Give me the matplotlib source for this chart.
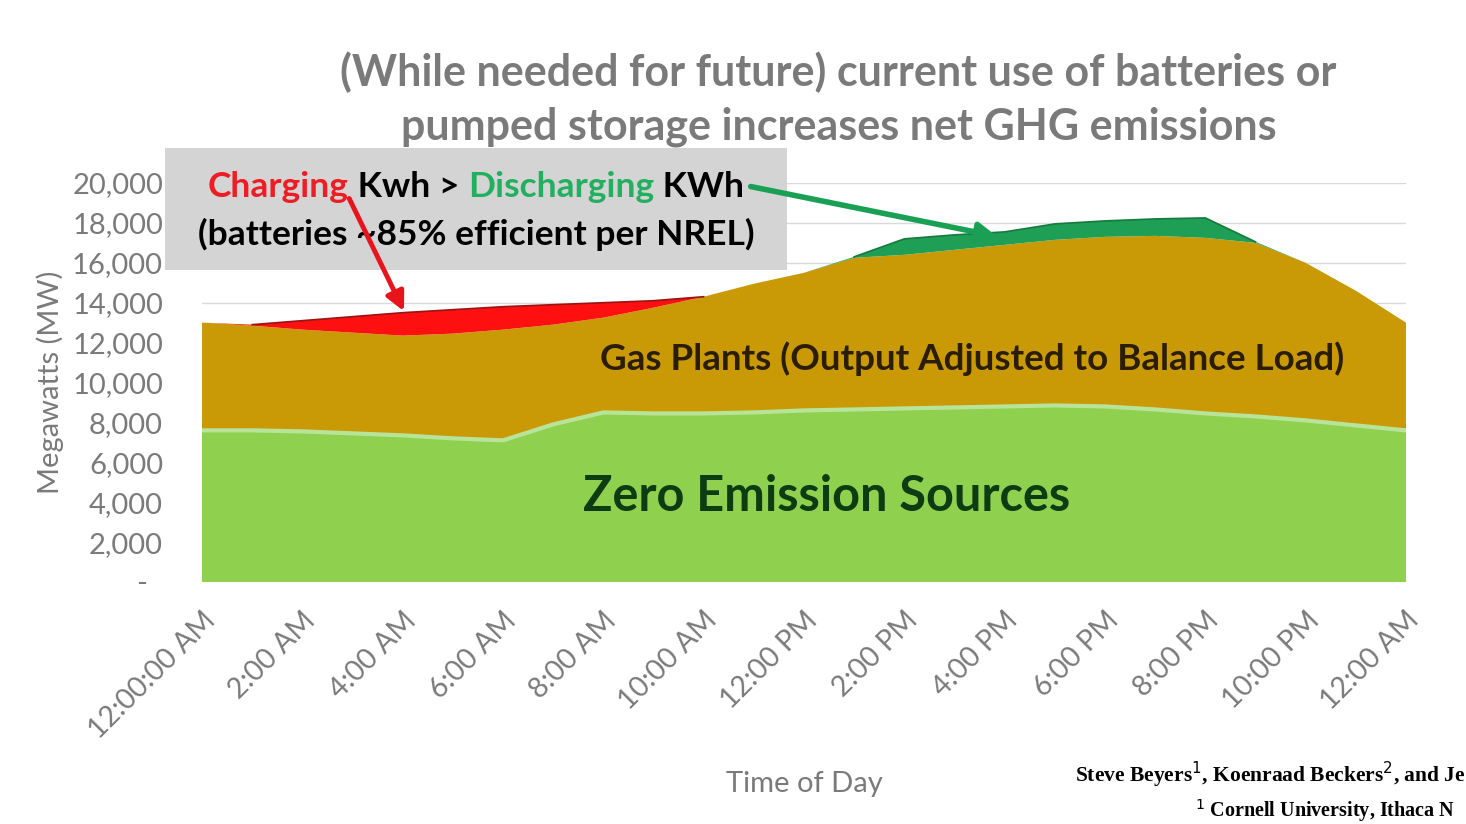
import numpy as np
import matplotlib
matplotlib.use("Agg")
import matplotlib.pyplot as plt

# hourly values (MW), hour 0 .. 24
hours = np.arange(25)
zero_emission = [7600, 7600, 7550, 7450, 7350, 7200, 7100, 7900, 8500, 8450, 8450, 8500, 8600,
                 8650, 8700, 8750, 8800, 8850, 8800, 8650, 8450, 8300, 8100, 7850, 7600]
gas_plants = [5400, 5250, 5100, 5050, 5000, 5250, 5550, 5000, 4750, 5300, 5850, 6450, 6900,
              7600, 7700, 7900, 8100, 8300, 8500, 8700, 8800, 8700, 7900, 6750, 5400]
charging = [0, 50, 450, 800, 1150, 1200, 1150, 1000, 750, 350, 0, 0, 0,
            0, 0, 0, 0, 0, 0, 0, 0, 0, 0, 0, 0]
discharging = [0, 0, 0, 0, 0, 0, 0, 0, 0, 0, 0, 0, 0,
               50, 800, 750, 650, 800, 800, 850, 1000, 50, 0, 0, 0]

tick_hours = list(range(0, 25, 2))
tick_labels = ["12:00:00 AM", "2:00 AM", "4:00 AM", "6:00 AM", "8:00 AM", "10:00 AM",
               "12:00 PM", "2:00 PM", "4:00 PM", "6:00 PM", "8:00 PM", "10:00 PM", "12:00 AM"]
y_ticks = list(range(0, 20001, 2000))

plt.rcParams['font.family'] = ['Lato', 'DejaVu Sans']
GRAY = '#7a7a7a'

fig = plt.figure(figsize=(14.66, 8.24), dpi=100)
ax = fig.add_axes([202/1466, 1-582/824, 1204/1466, 399/824])
FT = fig.transFigure

ax.stackplot(hours, zero_emission, gas_plants, charging, discharging,
             colors=['#90d04f', '#c99a06', '#ff1010', '#1f9e55'], linewidth=0)
# lighter edge along the top of the green layer
ax.plot(hours, zero_emission, color='#b8e49a', lw=3)
top_gas = np.array(zero_emission) + np.array(gas_plants)
ax.plot(hours[1:11], (top_gas + np.array(charging))[1:11], color='#9a1414', lw=1.2)
ax.plot(hours[13:22], (top_gas + np.array(discharging))[13:22], color='#157a3e', lw=1.2)

ax.set_xlim(0, 24)
ax.set_ylim(0, 20000)
ax.set_yticks(y_ticks)
ax.set_yticklabels(['-  '] + [f"{v:,}" for v in y_ticks[1:]])
ax.set_xticks(tick_hours)
ax.set_xticklabels(tick_labels, rotation=45, ha='right', rotation_mode='anchor')
ax.tick_params(axis='both', length=0, colors=GRAY)
ax.tick_params(axis='y', pad=28, labelsize=21)
ax.tick_params(axis='x', pad=18, labelsize=20.5)
ax.grid(axis='y', color='#d9d9d9', lw=1)
ax.set_axisbelow(True)
for s in ax.spines.values():
    s.set_visible(False)

ax.set_ylabel('Megawatts (MW)', color=GRAY, fontsize=21, labelpad=6)
ax.set_xlabel('Time of Day', color=GRAY, fontsize=21, labelpad=20)

fig.text(0.572, 1-72/824, '(While needed for future) current use of batteries or',
         ha='center', va='center', fontsize=31, fontweight='bold', color=GRAY)
fig.text(0.572, 1-127/824, 'pumped storage increases net GHG emissions',
         ha='center', va='center', fontsize=31, fontweight='bold', color=GRAY)

ax.text(15.35, 11200, 'Gas Plants (Output Adjusted to Balance Load)', ha='center', va='center',
        fontsize=26.5, fontweight='bold', color='#2b1d00')
ax.text(12.45, 4300, 'Zero Emission Sources', ha='center', va='center',
        fontsize=35, fontweight='bold', color='#0d3b12')

# annotation box, drawn inside the axes so the arrows can sit on top of it
box = plt.Rectangle((165/1466, 1-270/824), 622/1466, 122/824, transform=FT,
                    facecolor='#d4d4d4', edgecolor='none', zorder=5, clip_on=False)
ax.add_patch(box)

fig.canvas.draw()
r = fig.canvas.get_renderer()
pieces = [("Charging", '#ee1c24'), (" Kwh > ", 'black'), ("Discharging", '#22b060'), (" KWh", 'black')]
texts = []
for s, c in pieces:
    t = ax.text(0, 1-187/824, s, color=c, fontsize=25.5, fontweight='bold', ha='left', va='center',
                transform=FT, zorder=6)
    texts.append(t)
widths = [t.get_window_extent(r).width for t in texts]
x0 = 476 - sum(widths) / 2
for t, w in zip(texts, widths):
    t.set_x(x0 / 1466)
    x0 += w
ax.text(476/1466, 1-234/824, '(batteries ~85% efficient per NREL)', color='black', fontsize=25.5,
        fontweight='bold', ha='center', va='center', transform=FT, zorder=6)

ax.annotate('', xy=(4.05, 13450), xycoords='data', xytext=(348/1466, 1-196/824),
            textcoords='figure fraction',
            arrowprops=dict(arrowstyle='-|>', color='#e8141c', lw=3.5, mutation_scale=28), zorder=7)
ax.annotate('', xy=(15.9, 17300), xycoords='data', xytext=(748/1466, 1-186/824),
            textcoords='figure fraction',
            arrowprops=dict(arrowstyle='-|>', color='#1aa055', lw=4, mutation_scale=28), zorder=7)

fig.text(1075/1466, 1-775/824, 'Steve Beyers$^1$, Koenraad Beckers$^2$, and Je',
         family='Liberation Serif', fontweight='bold', fontsize=15.5, va='center', ha='left')
fig.text(1195/1466, 1-811/824, '$^1$ Cornell University, Ithaca N',
         family='Liberation Serif', fontweight='bold', fontsize=14.5, va='center', ha='left')

fig.savefig('out.png', dpi=100)
